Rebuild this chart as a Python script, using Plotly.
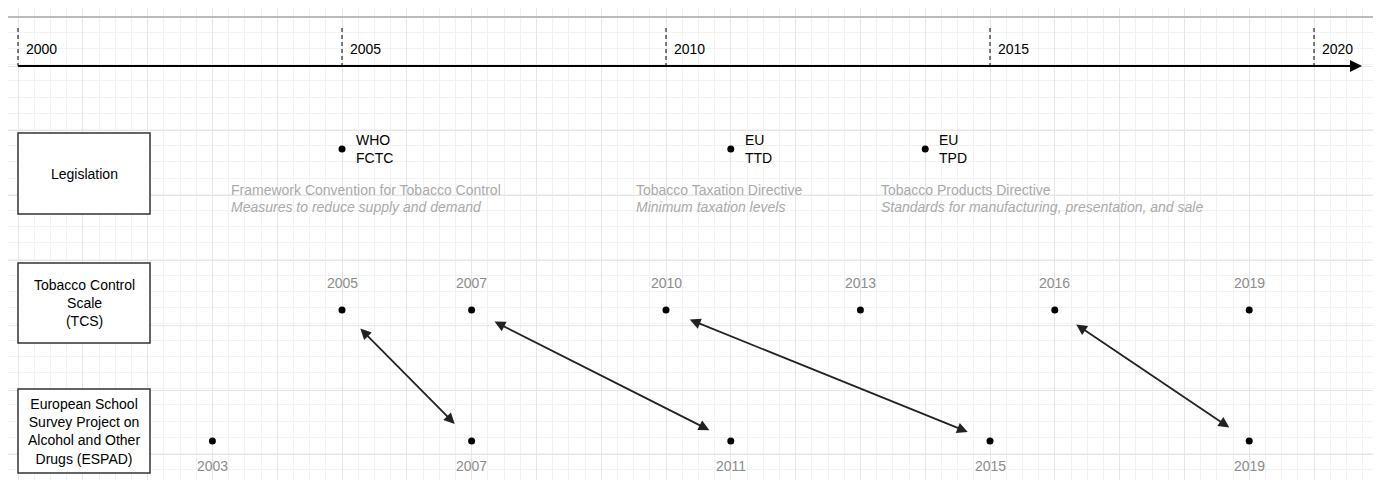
import plotly.graph_objects as go

# axis years
axis_years = [2000, 2005, 2010, 2015, 2020]

# legislation events
leg_years = [2005, 2011, 2014]
leg_codes = ["WHO<br>FCTC", "EU<br>TTD", "EU<br>TPD"]
leg_names = ["Framework Convention for Tobacco Control", "Tobacco Taxation Directive", "Tobacco Products Directive"]
leg_notes = ["Measures to reduce supply and demand", "Minimum taxation levels",
             "Standards for manufacturing, presentation, and sale"]
leg_text_start = [2003.25, 2009.5, 2013.28]

# survey waves
tcs_years = [2005, 2007, 2010, 2013, 2016, 2019]
espad_years = [2003, 2007, 2011, 2015, 2019]
links = [(2005, 2007), (2007, 2011), (2010, 2015), (2016, 2019)]

row_labels = ["Legislation", "Tobacco Control<br>Scale<br>(TCS)",
              "European School<br>Survey Project on<br>Alcohol and Other<br>Drugs (ESPAD)"]

PX = 64.8  # pixels per year
OFF = 8    # page offset compensation
X0 = 2000 - (18 - OFF) / PX
X1 = X0 + 1381 / PX
def xp(px):
    return 2000 + (px - 18) / PX

Y_AXIS, Y_LEG, Y_TCS, Y_ESP = 50, 133, 294, 425
FONT = "Liberation Sans, Arial, sans-serif"
GREY = "#8c8c8c"

fig = go.Figure()

for ys, yv in [(leg_years, Y_LEG), (tcs_years, Y_TCS), (espad_years, Y_ESP)]:
    fig.add_trace(go.Scatter(x=ys, y=[yv] * len(ys), mode="markers",
                             marker=dict(color="black", size=7), hoverinfo="skip"))

shapes = []
annotations = []

for yr in tcs_years:
    annotations.append(dict(x=yr, y=267, text=str(yr), showarrow=False,
                            font=dict(size=14, color=GREY, family=FONT)))
for yr in espad_years:
    annotations.append(dict(x=yr, y=450, text=str(yr), showarrow=False,
                            font=dict(size=14, color=GREY, family=FONT)))

# timeline
shapes.append(dict(type="line", x0=2000, x1=xp(1350), y0=Y_AXIS, y1=Y_AXIS,
                   line=dict(color="black", width=2)))
annotations.append(dict(x=xp(1362), y=Y_AXIS, ax=xp(1340), ay=Y_AXIS, axref="x", ayref="y",
                        xref="x", yref="y", text="", showarrow=True, arrowhead=2,
                        arrowsize=1.2, arrowwidth=2, arrowcolor="black"))
for yr in axis_years:
    shapes.append(dict(type="line", x0=yr, x1=yr, y0=12, y1=Y_AXIS,
                       line=dict(color="black", width=1, dash="4px,3px")))
    annotations.append(dict(x=yr + 6 / PX, y=33, text=str(yr), showarrow=False, xanchor="left",
                            font=dict(size=14, color="black", family=FONT)))

# row boxes
for (y0, y1), lab in zip([(117, 198), (247, 327), (373, 457)], row_labels):
    shapes.append(dict(type="rect", x0=2000, x1=xp(150), y0=y0, y1=y1,
                       line=dict(color="#333", width=1.5), fillcolor="white"))
    annotations.append(dict(x=xp(84), y=(y0 + y1) / 2, text=lab, showarrow=False,
                            font=dict(size=14, color="black", family=FONT)))

# legislation labels
for yr, code, name, note, xs in zip(leg_years, leg_codes, leg_names, leg_notes, leg_text_start):
    annotations.append(dict(x=yr + 12 / PX, y=Y_LEG, text=code, showarrow=False, xanchor="left",
                            align="left", font=dict(size=14, color="black", family=FONT)))
    annotations.append(dict(x=xs, y=174, text=name, showarrow=False, xanchor="left",
                            font=dict(size=14, color="#aaa", family=FONT)))
    annotations.append(dict(x=xs, y=191, text="<i>" + note + "</i>", showarrow=False, xanchor="left",
                            font=dict(size=14, color="#aaa", family=FONT)))

# double-headed arrows
for a, b in links:
    dx = (b - a) * PX
    dy = Y_ESP - Y_TCS
    L = (dx ** 2 + dy ** 2) ** 0.5
    ux, uy = dx / L, dy / L
    xs, ys = a + ux * 24 / PX, Y_TCS + uy * 24
    xe, ye = b - ux * 24 / PX, Y_ESP - uy * 24
    annotations.append(dict(x=xe, y=ye, ax=xs, ay=ys, axref="x", ayref="y", xref="x", yref="y",
                            text="", showarrow=True, arrowhead=2, arrowside="end+start",
                            arrowsize=1.2, arrowwidth=1.8, arrowcolor="#222"))

# outer border
shapes.append(dict(type="rect", x0=xp(1), x1=xp(1379), y0=1, y1=478,
                   line=dict(color="#bbb", width=2)))

fig.update_layout(
    width=1381, height=480, margin=dict(l=0, r=0, t=0, b=0),
    plot_bgcolor="white", paper_bgcolor="white", showlegend=False,
    shapes=shapes, annotations=annotations,
    xaxis=dict(range=[X0, X1], showticklabels=False, zeroline=False, tick0=2000, dtick=1,
               gridcolor="#e6e6e6", minor=dict(dtick=0.25, showgrid=True, gridcolor="#f2f2f2")),
    yaxis=dict(range=[480 - OFF, -OFF], showticklabels=False, zeroline=False, tick0=50, dtick=64.8,
               gridcolor="#e6e6e6", minor=dict(dtick=16.2, showgrid=True, gridcolor="#f2f2f2")),
)

fig.write_html("out.html")
